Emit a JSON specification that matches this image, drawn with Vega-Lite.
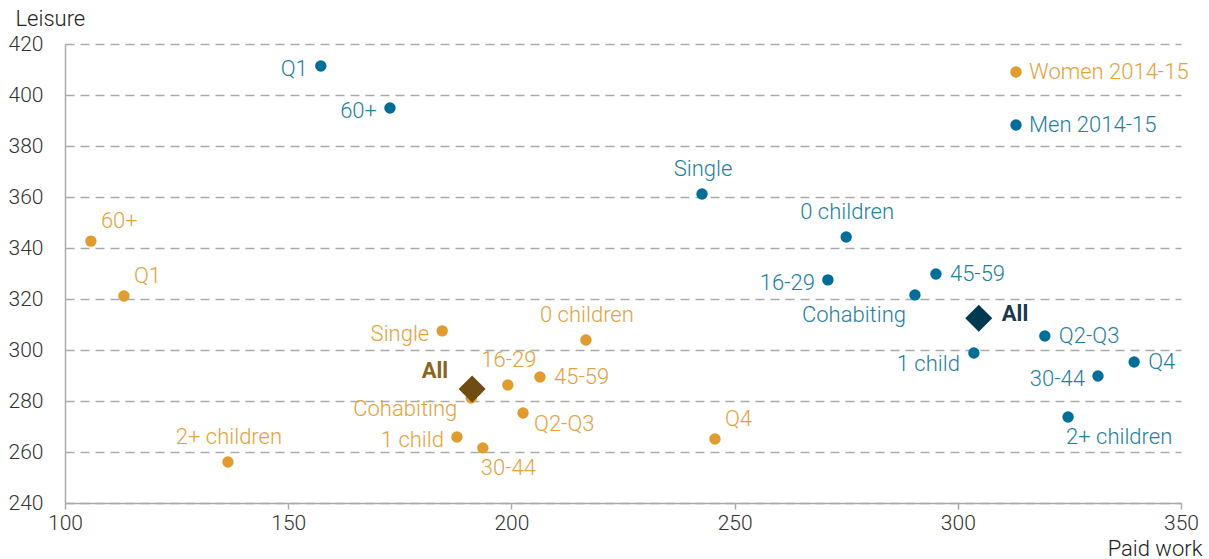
{
  "$schema": "https://vega.github.io/schema/vega-lite/v6.json",
  "autosize": {"type": "none"},
  "padding": {"left": 65, "top": 44, "right": 28, "bottom": 56},
  "width": 1116,
  "height": 459,
  "config": {
    "view": {"stroke": null},
    "font": "Roboto",
    "text": {"font": "Roboto", "fontSize": 22, "fontWeight": 300}
  },
  "data": {
    "values": [
      {"sex": "Men 2014-15", "group": "Q1", "paid": 157.3, "leisure": 411.4, "pos": "L"},
      {"sex": "Men 2014-15", "group": "60+", "paid": 172.8, "leisure": 394.9, "pos": "L"},
      {"sex": "Men 2014-15", "group": "Single", "paid": 242.7, "leisure": 361.2, "pos": "A"},
      {"sex": "Men 2014-15", "group": "0 children", "paid": 275.0, "leisure": 344.3, "pos": "A"},
      {"sex": "Men 2014-15", "group": "16-29", "paid": 270.9, "leisure": 327.5, "pos": "L"},
      {"sex": "Men 2014-15", "group": "45-59", "paid": 295.1, "leisure": 329.8, "pos": "R"},
      {"sex": "Men 2014-15", "group": "Cohabiting", "paid": 290.4, "leisure": 321.6, "pos": "BL"},
      {"sex": "Men 2014-15", "group": "All", "paid": 304.7, "leisure": 312.5, "pos": "AllR"},
      {"sex": "Men 2014-15", "group": "Q2-Q3", "paid": 319.5, "leisure": 305.5, "pos": "R"},
      {"sex": "Men 2014-15", "group": "1 child", "paid": 303.6, "leisure": 298.8, "pos": "LL"},
      {"sex": "Men 2014-15", "group": "Q4", "paid": 339.5, "leisure": 295.3, "pos": "R"},
      {"sex": "Men 2014-15", "group": "30-44", "paid": 331.4, "leisure": 289.8, "pos": "L"},
      {"sex": "Men 2014-15", "group": "2+ children", "paid": 324.7, "leisure": 273.7, "pos": "BR"},
      {"sex": "Women 2014-15", "group": "60+", "paid": 105.8, "leisure": 342.7, "pos": "AR"},
      {"sex": "Women 2014-15", "group": "Q1", "paid": 113.2, "leisure": 321.2, "pos": "AR"},
      {"sex": "Women 2014-15", "group": "2+ children", "paid": 136.5, "leisure": 256.1, "pos": "A"},
      {"sex": "Women 2014-15", "group": "Single", "paid": 184.5, "leisure": 307.5, "pos": "L"},
      {"sex": "Women 2014-15", "group": "0 children", "paid": 216.7, "leisure": 303.9, "pos": "A"},
      {"sex": "Women 2014-15", "group": "All", "paid": 191.2, "leisure": 284.7, "pos": "AllL"},
      {"sex": "Women 2014-15", "group": "16-29", "paid": 199.2, "leisure": 286.3, "pos": "A"},
      {"sex": "Women 2014-15", "group": "45-59", "paid": 206.4, "leisure": 289.4, "pos": "R"},
      {"sex": "Women 2014-15", "group": "Cohabiting", "paid": 191.0, "leisure": 281.2, "pos": "LL"},
      {"sex": "Women 2014-15", "group": "Q2-Q3", "paid": 202.6, "leisure": 275.3, "pos": "RL"},
      {"sex": "Women 2014-15", "group": "1 child", "paid": 187.8, "leisure": 265.9, "pos": "L"},
      {"sex": "Women 2014-15", "group": "30-44", "paid": 193.6, "leisure": 261.6, "pos": "BR"},
      {"sex": "Women 2014-15", "group": "Q4", "paid": 245.6, "leisure": 265.1, "pos": "AR"}
    ]
  },
  "encoding": {
    "x": {
      "field": "paid", "type": "quantitative",
      "scale": {"domain": [100, 350], "nice": false, "zero": false},
      "axis": {
        "title": "Paid work", "values": [100, 150, 200, 250, 300, 350],
        "grid": false, "domainColor": "#aaaaaa", "domainWidth": 1.5,
        "ticks": true, "tickColor": "#aaaaaa", "tickSize": 6, "tickWidth": 1.5,
        "labelFont": "Roboto", "labelFontSize": 21, "labelFontWeight": 300, "labelColor": "#333333", "labelPadding": 3,
        "labelFlush": false,
        "titleFont": "Roboto", "titleFontSize": 22, "titleFontWeight": 300, "titleColor": "#222222",
        "titleAlign": "right", "titleX": 1137, "titleY": 45, "titleBaseline": "middle", "titleAnchor": null
      }
    },
    "y": {
      "field": "leisure", "type": "quantitative",
      "scale": {"domain": [240, 420], "nice": false, "zero": false},
      "axis": {
        "title": "Leisure", "values": [240, 260, 280, 300, 320, 340, 360, 380, 400, 420],
        "grid": true, "gridColor": "#aaaaaa", "gridDash": [9, 6], "gridWidth": 1.5,
        "domainColor": "#aaaaaa", "domainWidth": 1.5, "ticks": false,
        "labelFont": "Roboto", "labelFontSize": 21, "labelFontWeight": 300, "labelColor": "#333333", "labelPadding": 22,
        "labelFlush": false,
        "titleFont": "Roboto", "titleFontSize": 22, "titleFontWeight": 300, "titleColor": "#222222",
        "titleAngle": 0, "titleAlign": "left", "titleX": -50, "titleY": -26, "titleBaseline": "middle", "titleAnchor": null
      }
    }
  },
  "layer": [
    {
      "transform": [{"filter": "datum.group != 'All'"}],
      "mark": {"type": "circle", "size": 130, "opacity": 1},
      "encoding": {
        "color": {
          "field": "sex", "type": "nominal",
          "scale": {"domain": ["Women 2014-15", "Men 2014-15"], "range": ["#E09C2E", "#006E96"]},
          "legend": {
            "title": null, "orient": "none", "legendX": 940, "legendY": 17, "padding": 0,
            "symbolType": "circle", "symbolSize": 130, "symbolStrokeWidth": 0, "symbolOpacity": 1,
            "labelFont": "Roboto", "labelFontSize": 22, "labelFontWeight": 300, "labelOffset": 2,
            "rowPadding": 31,
            "encode": {"labels": {"update": {"fill": {"signal": "datum.value == 'Women 2014-15' ? '#E3A23E' : '#1F80A3'"}}}}
          }
        }
      }
    },
    {
      "transform": [{"filter": "datum.group == 'All'"}],
      "mark": {"type": "point", "shape": "diamond", "size": 729, "filled": true, "opacity": 1},
      "encoding": {
        "color": {
          "field": "sex", "type": "nominal",
          "scale": {"domain": ["Women 2014-15", "Men 2014-15"], "range": ["#6E4C14", "#003A50"]},
          "legend": null
        }
      }
    },
    {
      "transform": [{"filter": "datum.pos == 'L'"}],
      "mark": {"type": "text", "align": "right", "baseline": "middle", "dx": -13, "dy": 3},
      "encoding": {"text": {"field": "group"}, "color": {"field": "sex", "type": "nominal", "scale": {"domain": ["Women 2014-15", "Men 2014-15"], "range": ["#E3A23E", "#1F80A3"]}, "legend": null}}
    },
    {
      "transform": [{"filter": "datum.pos == 'LL'"}],
      "mark": {"type": "text", "align": "right", "baseline": "middle", "dx": -14, "dy": 11},
      "encoding": {"text": {"field": "group"}, "color": {"field": "sex", "type": "nominal", "scale": {"domain": ["Women 2014-15", "Men 2014-15"], "range": ["#E3A23E", "#1F80A3"]}, "legend": null}}
    },
    {
      "transform": [{"filter": "datum.pos == 'R'"}],
      "mark": {"type": "text", "align": "left", "baseline": "middle", "dx": 14, "dy": 0},
      "encoding": {"text": {"field": "group"}, "color": {"field": "sex", "type": "nominal", "scale": {"domain": ["Women 2014-15", "Men 2014-15"], "range": ["#E3A23E", "#1F80A3"]}, "legend": null}}
    },
    {
      "transform": [{"filter": "datum.pos == 'RL'"}],
      "mark": {"type": "text", "align": "left", "baseline": "middle", "dx": 11, "dy": 11},
      "encoding": {"text": {"field": "group"}, "color": {"field": "sex", "type": "nominal", "scale": {"domain": ["Women 2014-15", "Men 2014-15"], "range": ["#E3A23E", "#1F80A3"]}, "legend": null}}
    },
    {
      "transform": [{"filter": "datum.pos == 'A'"}],
      "mark": {"type": "text", "align": "center", "baseline": "middle", "dx": 1, "dy": -25},
      "encoding": {"text": {"field": "group"}, "color": {"field": "sex", "type": "nominal", "scale": {"domain": ["Women 2014-15", "Men 2014-15"], "range": ["#E3A23E", "#1F80A3"]}, "legend": null}}
    },
    {
      "transform": [{"filter": "datum.pos == 'AR'"}],
      "mark": {"type": "text", "align": "left", "baseline": "middle", "dx": 10, "dy": -20},
      "encoding": {"text": {"field": "group"}, "color": {"field": "sex", "type": "nominal", "scale": {"domain": ["Women 2014-15", "Men 2014-15"], "range": ["#E3A23E", "#1F80A3"]}, "legend": null}}
    },
    {
      "transform": [{"filter": "datum.pos == 'BL'"}],
      "mark": {"type": "text", "align": "right", "baseline": "middle", "dx": -9, "dy": 20},
      "encoding": {"text": {"field": "group"}, "color": {"field": "sex", "type": "nominal", "scale": {"domain": ["Women 2014-15", "Men 2014-15"], "range": ["#E3A23E", "#1F80A3"]}, "legend": null}}
    },
    {
      "transform": [{"filter": "datum.pos == 'BR'"}],
      "mark": {"type": "text", "align": "left", "baseline": "middle", "dx": -2, "dy": 20},
      "encoding": {"text": {"field": "group"}, "color": {"field": "sex", "type": "nominal", "scale": {"domain": ["Women 2014-15", "Men 2014-15"], "range": ["#E3A23E", "#1F80A3"]}, "legend": null}}
    },
    {
      "transform": [{"filter": "datum.pos == 'AllL'"}],
      "mark": {"type": "text", "align": "right", "baseline": "middle", "dx": -24, "dy": -18, "fontWeight": "bold", "color": "#8A6420"},
      "encoding": {"text": {"field": "group"}}
    },
    {
      "transform": [{"filter": "datum.pos == 'AllR'"}],
      "mark": {"type": "text", "align": "left", "baseline": "middle", "dx": 23, "dy": -4, "fontWeight": "bold", "color": "#1A3A4C"},
      "encoding": {"text": {"field": "group"}}
    }
  ],
  "resolve": {"scale": {"color": "independent"}}
}
